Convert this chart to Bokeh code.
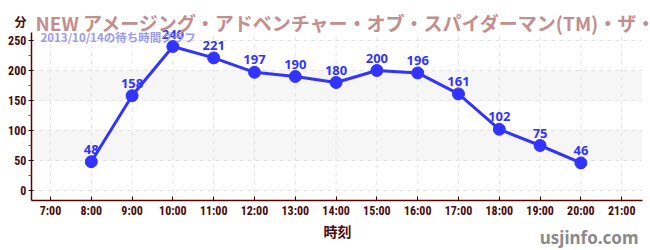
from bokeh.plotting import figure
from bokeh.models import (ColumnDataSource, FixedTicker, Label, BoxAnnotation, Range1d, LabelSet)
from bokeh.core.properties import value
from bokeh.embed import file_html
from bokeh.resources import INLINE

hours = [8, 9, 10, 11, 12, 13, 14, 15, 16, 17, 18, 19, 20]
waits = [48, 158, 240, 221, 197, 190, 180, 200, 196, 161, 102, 75, 46]
x_ticks = list(range(7, 22))
x_tick_labels = {h: f"{h}:00" for h in x_ticks}
y_ticks = [0, 50, 100, 150, 200, 250]
y_minor_ticks = [25, 75, 125, 175, 225]
bands = [(50, 100), (150, 200)]
title_text = "NEW アメージング・アドベンチャー・オブ・スパイダーマン(TM)・ザ・ライド 4K3D"
subtitle_text = "2013/10/14の待ち時間グラフ"
y_unit = "分"
x_label = "時刻"
watermark = "usjinfo.com"

# plotting-area extent (data units)
X_LO, X_HI = 6.53, 21.5
Y_LO, Y_HI = -16.67, 263.33

FONT = "Noto Sans CJK JP"
NARROW = "'Liberation Sans Narrow', 'Roboto Condensed', 'Noto Sans'"
MAROON = "#4a0a0a"
BLUE = "#3333ff"
GRID = "#e2e2e2"

p = figure(width=650, height=250, frame_width=650, frame_height=250,
           output_backend="svg", toolbar_location=None,
           x_range=Range1d(5.775, 21.706), y_range=Range1d(-100, 316.67),
           min_border=0)
p.outline_line_color = None
p.background_fill_color = "white"
p.xgrid.visible = False
p.ygrid.visible = False

for lo, hi in bands:
    p.add_layout(BoxAnnotation(bottom=lo, top=hi, left=X_LO, right=X_HI, fill_color="#f6f6f6",
                               fill_alpha=1, line_color=None, level="underlay"))

# dashed grid lines limited to the plotting area
p.segment(x0=x_ticks, y0=[Y_LO] * len(x_ticks), x1=x_ticks, y1=[Y_HI] * len(x_ticks),
          line_color=GRID, line_dash="4 4", line_width=1)
p.segment(x0=[X_LO] * len(y_ticks), y0=y_ticks, x1=[X_HI] * len(y_ticks), y1=y_ticks,
          line_color=GRID, line_dash="4 4", line_width=1)

p.xaxis.fixed_location = Y_LO
p.xaxis.bounds = (X_LO, X_HI)
p.yaxis.fixed_location = X_LO
p.yaxis.bounds = (Y_LO, Y_HI)

p.xaxis.ticker = FixedTicker(ticks=x_ticks)
p.xaxis.major_label_overrides = x_tick_labels
p.yaxis.ticker = FixedTicker(ticks=y_ticks, minor_ticks=y_minor_ticks)
for ax in (p.xaxis, p.yaxis):
    ax.axis_line_color = "#5a0000"
    ax.axis_line_width = 1.5
    ax.major_tick_line_color = "#330000"
    ax.major_label_text_color = MAROON
    ax.major_label_text_font = NARROW
    ax.major_label_text_font_style = "bold"
    ax.major_label_text_font_size = "12px"
p.xaxis.major_tick_in = 4
p.xaxis.major_tick_out = 0
p.xaxis.major_label_standoff = 3
p.yaxis.major_tick_in = 2
p.yaxis.major_tick_out = 3
p.yaxis.major_label_standoff = 2
p.xaxis.minor_tick_line_color = None
p.yaxis.minor_tick_line_color = "#dd2222"
p.yaxis.minor_tick_in = 0
p.yaxis.minor_tick_out = 3

src = ColumnDataSource(dict(x=hours, y=waits, t=[str(v) for v in waits]))
p.line("x", "y", source=src, line_color=BLUE, line_width=3)
p.scatter("x", "y", source=src, size=12, fill_color=BLUE, line_color=BLUE)
p.add_layout(LabelSet(x="x", y="y", text="t", source=src, text_align="center",
                      text_baseline="alphabetic", y_offset=8, text_color=BLUE,
                      text_font=value("Noto Sans"), text_font_style="bold",
                      text_font_size="13px"))

# screen coords: origin at the canvas bottom-left (frame fills the canvas)
p.add_layout(Label(x=35, y=228, x_units="screen", y_units="screen", text=title_text,
                   text_font=FONT, text_font_style="bold", text_font_size="19px",
                   text_color="#c28e8e", text_baseline="alphabetic"))
p.add_layout(Label(x=40, y=214, x_units="screen", y_units="screen", text=subtitle_text,
                   text_font=FONT, text_font_size="11.5px", text_font_style="bold",
                   text_color="#9a9af0", text_baseline="alphabetic"))
p.add_layout(Label(x=14, y=229, x_units="screen", y_units="screen", text=y_unit,
                   text_font=FONT, text_font_style="bold", text_font_size="12px",
                   text_color=MAROON, text_baseline="alphabetic"))
p.add_layout(Label(x=337, y=20, x_units="screen", y_units="screen", text=x_label,
                   text_font=FONT, text_font_style="bold", text_font_size="14px",
                   text_color=MAROON, text_align="center", text_baseline="middle"))
p.add_layout(Label(x=638, y=13, x_units="screen", y_units="screen", text=watermark,
                   text_font="Noto Sans", text_font_style="bold", text_font_size="17px",
                   text_color="#8a8a8a", text_align="right", text_baseline="alphabetic"))

open("out.html", "w").write(file_html(p, INLINE))
